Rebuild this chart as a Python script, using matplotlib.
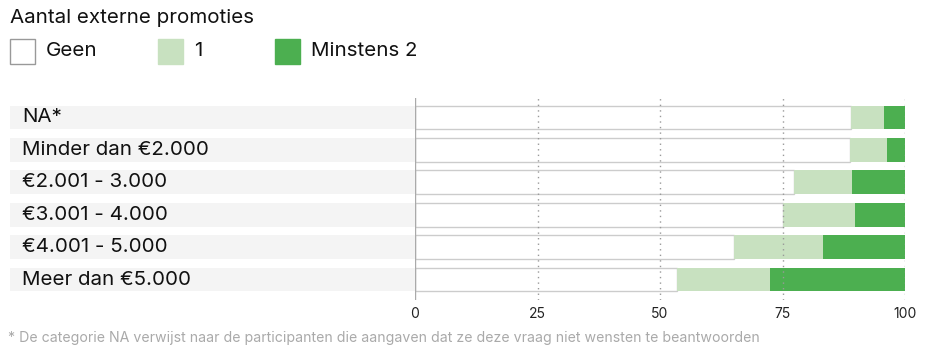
import matplotlib.pyplot as plt
from matplotlib.patches import Rectangle
import numpy as np

plt.rcParams['font.family'] = ['Inter', 'DejaVu Sans']

categories = ['NA*', 'Minder dan €2.000', '€2.001 - 3.000', '€3.001 - 4.000',
              '€4.001 - 5.000', 'Meer dan €5.000']
geen = [88.9, 88.7, 77.3, 75.2, 65.0, 53.4]
een = [6.8, 7.6, 11.9, 14.6, 18.3, 19.0]
minstens2 = [4.3, 3.7, 10.8, 10.2, 16.7, 27.6]
series_labels = ['Geen', '1', 'Minstens 2']
ticks = [0, 25, 50, 75, 100]

light = '#c8e1c0'
dark = '#4caf50'

fig = plt.figure(figsize=(9.34, 3.45), dpi=100)
ax = fig.add_axes([415 / 934, 45 / 345, 490 / 934, 202 / 345])

y = np.arange(len(categories))
h = 0.73

# grey label bands on the left
ax.barh(y, [82.65] * len(y), left=-82.65, height=h, color='#f4f4f4',
        clip_on=False, zorder=0)
for yi, cat in zip(y, categories):
    ax.text(-80.2, yi, cat, ha='left', va='center', fontsize=14.8,
            color='#111111', clip_on=False)

ax.barh(y, geen, height=h, color='white', edgecolor='#cccccc', linewidth=1, zorder=2)
left = np.array(geen)
ax.barh(y, een, left=left, height=h, color=light, zorder=2)
left = left + np.array(een)
ax.barh(y, minstens2, left=left, height=h, color=dark, zorder=2)

for t in ticks[1:]:
    ax.axvline(t, color='#999999', linestyle=(0, (1, 3)), linewidth=1, zorder=3)
ax.axvline(0, color='#aaaaaa', linewidth=1, zorder=3)

ax.set_xlim(0, 100)
ax.set_ylim(5.63, -0.6)
ax.set_xticks(ticks)
ax.set_xticklabels([str(t) for t in ticks], fontsize=10, color='#222222')
ax.tick_params(axis='x', length=0, pad=5)
ax.set_yticks([])
for s in ax.spines.values():
    s.set_visible(False)

# title and legend
fig.text(10 / 934, 1 - 18 / 345, 'Aantal externe promoties', fontsize=14.8,
         va='center', ha='left', color='#111111')
leg_y = 1 - 51 / 345
sq = 25
for x0, col, lab in [(10, 'white', series_labels[0]), (158, light, series_labels[1]),
                     (275, dark, series_labels[2])]:
    fig.patches.append(Rectangle((x0 / 934, (345 - 51 - sq / 2) / 345), sq / 934, sq / 345,
                                 transform=fig.transFigure, facecolor=col,
                                 edgecolor='#999999' if col == 'white' else col, linewidth=1))
    fig.text((x0 + sq + 11) / 934, leg_y, lab, fontsize=14.8, va='center', ha='left',
             color='#111111')

fig.text(8 / 934, 1 - 338 / 345,
         '* De categorie NA verwijst naar de participanten die aangaven dat ze deze vraag niet wensten te beantwoorden',
         fontsize=10.2, color='#aaaaaa', va='center', ha='left')

fig.savefig('out.png', dpi=100)
